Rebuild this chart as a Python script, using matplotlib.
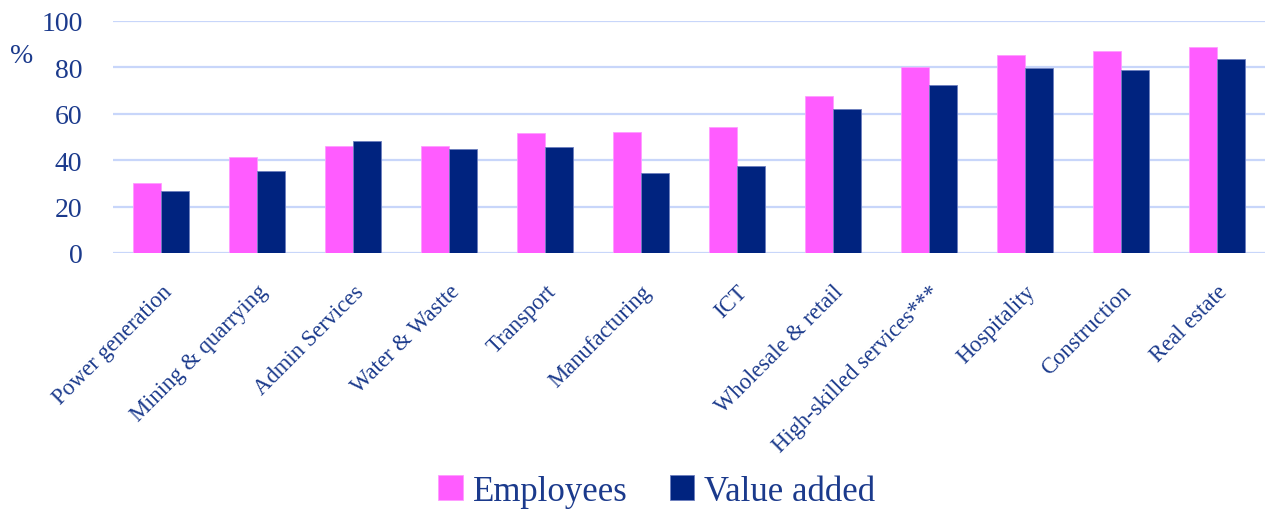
import matplotlib.pyplot as plt
import numpy as np

sectors = ['Power generation', 'Mining & quarrying', 'Admin Services', 'Water & Wastte',
           'Transport', 'Manufacturing', 'ICT', 'Wholesale & retail',
           'High-skilled services***', 'Hospitality', 'Construction', 'Real estate']
employees = [30.2, 41.4, 46.1, 46.1, 51.9, 52.0, 54.3, 67.7, 80.2, 85.5, 87.1, 88.7]
value_added = [26.7, 35.3, 48.3, 45.0, 45.6, 34.3, 37.6, 62.2, 72.3, 79.9, 78.7, 83.7]
yticks = [0, 20, 40, 60, 80, 100]

pink = '#FF5CFF'
navy = '#00237F'
text_col = '#1B3A8C'
grid_col = '#C8D6FA'

plt.rcParams['font.family'] = ['Liberation Serif', 'DejaVu Serif']

fig = plt.figure(figsize=(12.73, 5.10), dpi=100)
ax = fig.add_axes([0.0888, 0.502, 0.9049, 0.455])

x = np.arange(len(sectors))
w = 0.29
ax.bar(x - w / 2, employees, w, color=pink, edgecolor='#FF9CFF', linewidth=0.6,
       label='Employees', zorder=3)
ax.bar(x + w / 2, value_added, w, color=navy, edgecolor='#6D7FBF', linewidth=0.6,
       label='Value added', zorder=3)

ax.set_xlim(-0.5, len(sectors) - 0.5)
ax.set_ylim(0, 100)
ax.set_yticks(yticks)
ax.yaxis.grid(True, color=grid_col, linewidth=1.6, zorder=0)
for s in ax.spines.values():
    s.set_visible(False)
ax.tick_params(axis='both', length=0, colors=text_col)
ax.tick_params(axis='y', labelsize=20, pad=22)
ax.set_xticks(x)
ax.set_xticklabels(sectors, rotation=45, ha='right', rotation_mode='anchor',
                   fontsize=16.3, color=text_col)
ax.tick_params(axis='x', pad=20)

fig.text(0.017, 0.89, '%', fontsize=20, color=text_col, ha='center', va='center')

leg = fig.legend(loc='center', bbox_to_anchor=(0.516, 0.035), ncol=2, frameon=False,
                 fontsize=25, handlelength=0.7, handleheight=0.7, handletextpad=0.3,
                 columnspacing=1.2)
for t in leg.get_texts():
    t.set_color(text_col)

fig.savefig('out.png', dpi=100)
